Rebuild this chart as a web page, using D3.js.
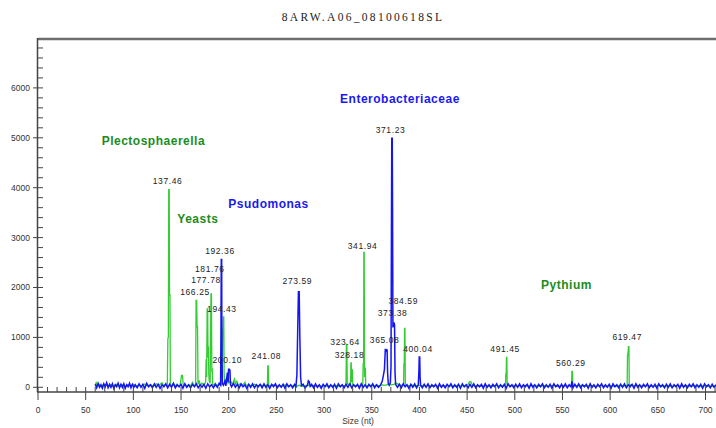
<!DOCTYPE html>
<html>
<head>
<meta charset="utf-8">
<script src="https://cdn.jsdelivr.net/npm/d3@7"></script>
<style>
  body { margin: 0; background: #fff; }
  svg { display: block; }
  .tick-lbl { font-family: "Liberation Sans", Arial, sans-serif; font-size: 8.5px; fill: #333; }
  .peak-lbl { font-family: "Liberation Sans", Arial, sans-serif; font-size: 8.5px; fill: #222; letter-spacing: 0.6px; }
  .species { font-family: "Liberation Sans", Arial, sans-serif; font-size: 12px; font-weight: bold; letter-spacing: 0.5px; }
</style>
</head>
<body>
<div id="chart"></div>
<script>
// Electropherogram – sample 8ARW.A06_08100618SL

const TITLE = "8ARW.A06_08100618SL";
const X_LABEL = "Size (nt)";
const xTicks = d3.range(0, 701, 50);
const yTicks = [0, 1000, 2000, 3000, 4000, 5000, 6000];

// green dye trace, [size (nt), signal]
const greenTrace = [
  [60,40],[61,90],[62,20],[64,60],[66,10],[68,50],[70,30],[72,70],[74,20],[76,50],[79,15],[82,60],[85,25],[88,55],
  [91,20],[94,45],[97,30],[100,60],[103,20],[106,50],[109,25],[112,65],[115,30],[118,50],[121,20],[124,70],[127,40],
  [130,90],[132,30],[134,60],
  [135.6,40],[136.2,980],[136.7,1000],[137.1,3960],[137.6,3960],[137.9,1850],[138.4,1850],[138.8,60],
  [140,30],[142,80],[144,20],[145.5,60],[147,30],[149,40],[150.5,240],[151.5,240],[152.3,40],[154,60],[156,20],
  [158,50],[160,30],[162,100],[163.5,40],
  [165.3,50],[165.8,1740],[166.4,1740],[166.8,1210],[167.3,1210],[167.8,60],[169,140],[170,40],[172,80],[173.5,50],
  [174.5,60],[175.8,100],[176.3,560],[176.8,200],[177.4,1570],[177.9,1570],[178.3,600],[178.7,815],[179.1,250],
  [179.6,120],[180.5,80],[181.4,1870],[181.9,1870],[182.3,300],[182.7,385],[183.2,60],[184.5,40],[186,80],[188,30],
  [190,60],[191.5,40],
  [193.2,60],[193.6,1160],[194.0,1160],[194.4,1410],[194.8,1410],[195.2,300],[195.7,80],[197,150],[198,60],[199,200],
  [200,90],[202,120],[204,60],[206,165],[207,70],[208.5,120],[210,40],[212,70],[214,30],[217,100],[218,40],[221,50],
  [224,30],[227,60],[230,20],[233,50],[236,30],[239,40],
  [240.6,60],[241.0,430],[241.5,430],[241.9,40],[244,30],[247,50],[250,20],[253,40],[256,25],[259,50],[262,20],
  [265,40],[268,25],[271,20],[274,40],[277,20],[280,30],[283,45],[286,20],[289,35],[292,20],[295,40],[298,25],
  [301,35],[304,20],[307,40],[310,25],[313,35],[316,20],[319,40],[322,30],
  [323.0,60],[323.4,860],[323.9,860],[324.3,100],[325,60],[327.8,60],[328.1,490],[328.5,490],[328.8,100],
  [329.3,350],[329.7,350],[330.1,50],[333,30],[336,40],[339,25],
  [340.6,60],[341.0,480],[341.5,480],[341.7,2705],[342.1,2705],[342.4,200],[342.9,385],[343.3,385],[343.7,40],
  [346,30],[349,40],[352,25],[355,45],[358,30],[361,50],[364,40],[367,60],[370,50],[373,60],[376,80],[379,50],[382,40],
  [383.4,60],[383.7,467],[384.1,467],[384.4,1180],[384.8,1180],[385.2,80],[386,40],[389,30],[392,45],[395,25],
  [398,40],[401,30],[404,40],[407,25],[410,35],[413,20],[416,40],[419,25],[422,35],[425,20],[428,40],[431,25],
  [434,35],[437,20],[440,40],[443,25],[446,35],[449,30],[451,60],[452,100],[453,115],[454,110],[455,70],[456,40],
  [459,30],[462,35],[465,20],[468,40],[471,25],[474,35],[477,20],[480,40],[483,25],[486,35],[489,30],
  [490.3,50],[490.6,265],[491.0,265],[491.3,600],[491.7,600],[492.0,60],[493,40],[496,30],[499,40],[502,25],
  [505,35],[508,20],[511,40],[515,25],[520,40],[525,20],[530,35],[535,25],[540,40],[545,20],[550,35],[555,25],
  [559.5,40],[559.9,320],[560.4,320],[560.8,40],[565,30],[570,40],[575,25],[580,35],[585,20],[590,40],[595,25],
  [600,35],[605,20],[610,40],[615,30],
  [617.8,40],[618.2,647],[618.6,647],[619.2,814],[619.7,814],[620.0,60],[625,30],[630,40],[635,25],[640,35],
  [645,20],[650,40],[655,25],[660,35],[665,20],[670,40],[675,25],[680,35],[685,20],[690,40],[695,25],[700,35],
  [705,20],[711,30]
];

// blue dye trace, [size (nt), signal]
const blueTrace = [
  [60,60],[61.5,-10],[63,80],[64.5,0],[66,50],[67.5,-20],[69,70],[70.5,10],[72,90],[73.5,-10],[75,60],[76.5,0],
  [78,70],[79.5,-20],[81,50],[82.5,10],[84,80],[85.5,-10],[87,60],[88.5,0],[90,70],[91.5,-20],[93,50],[94.5,10],
  [96,80],[97.5,-10],[99,60],[100.5,0],[102,50],[104,-10],[106,70],[108,0],[110,60],[112,-20],[114,80],[116,10],
  [118,50],[120,-10],[122,70],[124,0],[126,60],[128,-20],[130,50],[132,10],[134,70],[136,-10],[138,60],[140,0],
  [142,80],[144,-10],[146,50],[148,10],[150,60],[152,-20],[154,70],[156,0],[158,50],[160,-10],[162,60],[164,10],
  [166,70],[168,-10],[170,50],[172,0],[174,60],[176,-20],[178,70],[180,10],[182,50],[184,-10],[186,60],[188,0],[190,80],
  [191.5,40],[191.9,1190],[192.2,2560],[192.6,2560],[192.9,600],[193.3,80],[194.5,40],[196,120],[197,30],
  [198.5,280],[199,280],[199.4,100],[199.8,360],[200.6,360],[201.3,340],[201.8,60],[203,10],[205,80],[207,0],
  [209,60],[211,-10],[213,70],[215,10],[217,50],[219,-20],[221,60],[223,0],[225,70],[227,-10],[229,50],[231,10],
  [233,60],[235,-10],[237,70],[239,0],[241,50],[243,-20],[245,60],[247,10],[249,70],[251,-10],[253,50],[255,0],
  [257,60],[259,-20],[261,70],[263,10],[265,50],[267,-10],[269,60],[270.5,20],
  [271.5,250],[272.3,1100],[273.1,1916],[273.9,1916],[274.6,1000],[275.4,200],[276.3,30],[278,60],[280,-10],
  [282.5,40],[283.5,130],[284.5,110],[285.5,20],[287,60],[289,-10],[291,70],[293,0],[295,50],[297,-20],[299,60],
  [301,10],[303,70],[305,-10],[307,50],[309,0],[311,60],[313,-20],[315,70],[317,10],[319,50],[321,-10],[323,60],
  [325,0],[327,70],[329,-10],[331,50],[333,10],[335,60],[337,-20],[339,70],[341,0],[343,50],[345,-10],[347,60],
  [349,10],[351,70],[353,-10],[355,50],[357,0],[359,40],
  [360,80],[361,120],[362.3,250],[363.3,360],[364.2,760],[364.9,760],[365.5,730],[366.1,760],[366.6,300],
  [367.3,80],[368.3,40],[369.5,90],[370.2,420],[370.7,3500],[371.0,4990],[371.5,4990],[371.8,3600],[372.2,1200],
  [372.7,1290],[373.4,1290],[373.9,1250],[374.4,300],[375,60],[377,0],[379,60],[381,-10],[383,70],[385,10],
  [387,50],[389,-20],[391,60],[393,0],[395,70],[397,-10],[398.8,50],
  [399.4,300],[399.8,607],[400.3,607],[400.7,200],[401.2,40],[403,-10],[405,60],[407,0],[409,70],[411,-10],
  [413,50],[415,10],[417,60],[419,-20],[421,70],[423,0],[425,50],[427,-10],[429,60],[431,10],[433,70],[435,-10],
  [437,50],[439,0],[441,60],[443,-20],[445,70],[447,10],[449,50],[451,-10],[453,60],[455,0],[457,70],[459,-10],
  [461,50],[463,10],[465,60],[467,-20],[469,70],[471,0],[473,50],[475,-10],[477,60],[479,10],[481,70],[483,-10],
  [485,50],[487,0],[489,60],[491,-20],[493,70],[495,10],[497,50],[499,-10],[501,60],[503,0],[505,70],[507,-10],
  [509,50],[511,10],[513,60],[515,-20],[517,70],[519,0],[521,50],[523,-10],[525,60],[527,10],[529,70],[531,-10],
  [533,50],[535,0],[537,60],[539,-20],[541,70],[543,10],[545,50],[547,-10],[549,60],[551,0],[553,70],[555,-10],
  [557,50],[559,10],[560,120],[561,-10],[563,60],[565,0],[567,70],[569,-10],[571,50],[573,10],[575,60],[577,-20],
  [579,70],[581,0],[583,50],[585,-10],[587,60],[589,10],[591,70],[593,-10],[595,50],[597,0],[599,60],[601,-20],
  [603,70],[605,10],[607,50],[609,-10],[611,60],[613,0],[615,70],[617,-10],[619,50],[621,10],[623,60],[625,-20],
  [627,70],[629,0],[631,50],[633,-10],[635,60],[637,10],[639,70],[641,-10],[643,50],[645,0],[647,60],[649,-20],
  [651,70],[653,10],[655,50],[657,-10],[659,60],[661,0],[663,70],[665,-10],[667,50],[669,10],[671,60],[673,-20],
  [675,70],[677,0],[679,50],[681,-10],[683,60],[685,10],[687,70],[689,-10],[691,50],[693,0],[695,60],[697,-20],
  [699,70],[701,10],[703,50],[705,-10],[707,60],[709,0],[711,50]
];

// peak size labels: [text, size, signal level of the label]
const peakLabels = [
  ["137.46",137.46,4084],["166.25",166.25,1850],["177.78",177.78,2090],["181.76",181.76,2310],
  ["192.36",192.36,2681],["194.43",194.43,1499],["200.10",200.10,477],["241.08",241.08,577],
  ["273.59",273.59,2070],["323.64",323.64,838],["328.18",328.18,597],["341.94",341.94,2781],
  ["365.08",365.08,878],["371.23",371.23,5106],["373.38",373.38,1419],["384.59",384.59,1669],
  ["400.04",400.04,717],["491.45",491.45,701],["560.29",560.29,427],["619.47",619.47,948]
];

// taxon annotations: [name, dye, size, signal]
const species = [
  ["Plectosphaerella","green",66.8,4856],
  ["Yeasts","green",146.1,3293],
  ["Psudomonas","blue",199.6,3593],
  ["Enterobacteriaceae","blue",316.8,5707],
  ["Pythium","green",527.6,1970]
];

const W = 716, H = 428;
const x = d3.scaleLinear().domain([0, 711]).range([38, 716]);
const y = d3.scaleLinear().domain([0, 7000]).range([387.3, 38]);
const AXIS_Y = 392;

const traceColor = { green: "#33cc33", blue: "#1414f5" };
const labelColor = { green: "#1c8c1c", blue: "#1a1aee" };

const svg = d3.select("#chart").append("svg").attr("width", W).attr("height", H);

svg.append("defs").append("clipPath").attr("id", "clip")
  .append("rect").attr("x", 38).attr("y", 38).attr("width", 678).attr("height", 360);

// title
svg.append("text").attr("x", 363).attr("y", 21).attr("text-anchor", "middle")
  .style("font-family", "'Liberation Serif', 'Times New Roman', serif").style("font-size", "11.5px")
  .style("letter-spacing", "2.3px").attr("fill", "#222").text(TITLE);

// top frame line
svg.append("line").attr("x1", 38).attr("x2", 716).attr("y1", 39).attr("y2", 39)
  .attr("stroke", "#6e6e6e").attr("stroke-width", 2.5);

// traces
const line = d3.line().x(d => x(d[0])).y(d => y(d[1]));
const gPlot = svg.append("g").attr("clip-path", "url(#clip)");
gPlot.append("path").datum(greenTrace).attr("d", line)
  .attr("fill", "none").attr("stroke", traceColor.green).attr("stroke-width", 1.3);
gPlot.append("path").datum(blueTrace).attr("d", line)
  .attr("fill", "none").attr("stroke", traceColor.blue).attr("stroke-width", 1.5);

// y axis
const gY = svg.append("g").attr("class", "y-axis");
gY.append("line").attr("x1", 37.5).attr("x2", 37.5).attr("y1", 38).attr("y2", AXIS_Y)
  .attr("stroke", "#444").attr("stroke-width", 1.5);
const yMinor = d3.range(0, 7001, 200).filter(v => v % 1000 !== 0);
gY.selectAll("line.minor").data(yMinor).join("line").attr("class", "minor")
  .attr("x1", 38).attr("x2", 43).attr("y1", d => y(d)).attr("y2", d => y(d))
  .attr("stroke", "#444").attr("stroke-width", 1);
gY.selectAll("line.major").data(yTicks).join("line").attr("class", "major")
  .attr("x1", 33).attr("x2", 43).attr("y1", d => y(d)).attr("y2", d => y(d))
  .attr("stroke", "#444").attr("stroke-width", 1);
gY.selectAll("text").data(yTicks).join("text").attr("class", "tick-lbl")
  .attr("x", 30).attr("y", d => y(d)).attr("dy", "0.35em").attr("text-anchor", "end")
  .text(d => d);

// x axis
const gX = svg.append("g").attr("class", "x-axis");
gX.append("line").attr("x1", 37).attr("x2", 716).attr("y1", AXIS_Y).attr("y2", AXIS_Y)
  .attr("stroke", "#444").attr("stroke-width", 1.5);
const xMinor = d3.range(10, 711, 10).filter(v => v % 50 !== 0);
gX.selectAll("line.minor").data(xMinor).join("line").attr("class", "minor")
  .attr("x1", d => x(d)).attr("x2", d => x(d)).attr("y1", AXIS_Y - 5).attr("y2", AXIS_Y)
  .attr("stroke", "#444").attr("stroke-width", 1);
gX.selectAll("line.major").data(xTicks).join("line").attr("class", "major")
  .attr("x1", d => x(d)).attr("x2", d => x(d)).attr("y1", AXIS_Y - 5).attr("y2", AXIS_Y + 8)
  .attr("stroke", "#444").attr("stroke-width", 1);
gX.selectAll("text").data(xTicks).join("text").attr("class", "tick-lbl")
  .attr("x", d => x(d)).attr("y", 413).attr("text-anchor", "middle").text(d => d);
svg.append("text").attr("class", "tick-lbl").attr("x", 358).attr("y", 424)
  .attr("text-anchor", "middle").text(X_LABEL);

// peak labels
svg.append("g").selectAll("text").data(peakLabels).join("text").attr("class", "peak-lbl")
  .attr("x", d => x(d[1]) - 1.5).attr("y", d => y(d[2])).attr("text-anchor", "middle")
  .text(d => d[0]);

// taxon labels
svg.append("g").selectAll("text").data(species).join("text").attr("class", "species")
  .attr("x", d => x(d[2])).attr("y", d => y(d[3])).attr("fill", d => labelColor[d[1]])
  .text(d => d[0]);
</script>
</body>
</html>
